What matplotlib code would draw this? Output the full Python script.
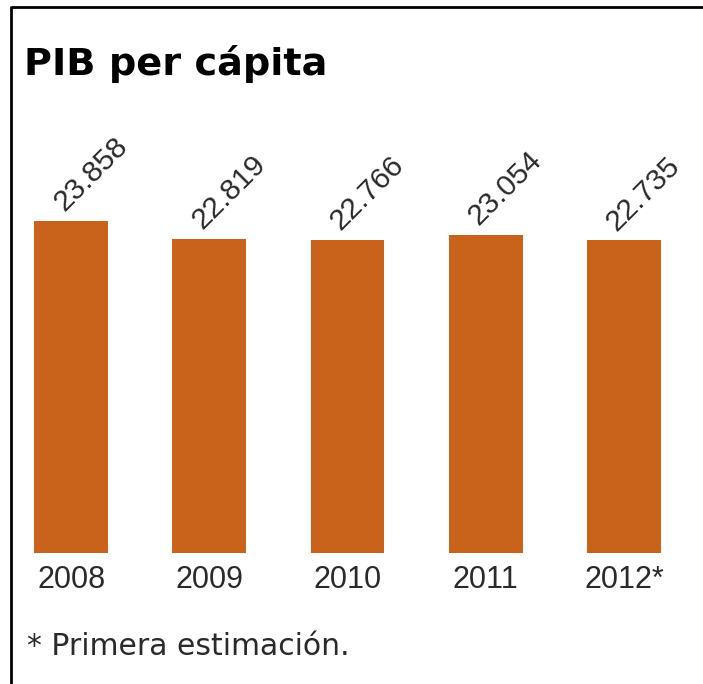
import matplotlib
matplotlib.use("Agg")
import matplotlib.pyplot as plt
from matplotlib.lines import Line2D
from matplotlib import font_manager as fm

# Data
years = ["2008", "2009", "2010", "2011", "2012*"]
values = [23858, 22819, 22766, 23054, 22735]
title = "PIB per cápita"
footnote = "* Primera estimación."


def regular_sans(size):
    path = None
    for f in fm.fontManager.ttflist:
        base = f.fname.rsplit("/", 1)[-1]
        if base.lower() == "liberationsans-regular.ttf":
            path = f.fname
            break
    if path:
        return fm.FontProperties(fname=path, size=size)
    return fm.FontProperties(family="DejaVu Sans", size=size)


W, H = 703, 684
fig = plt.figure(figsize=(W / 100, H / 100), dpi=100)

bar_color = "#C9621B"
text_color = "#2a2a2a"

# Axes placement (pixels from top-left converted to figure fraction)
ax_left_px, ax_right_px = 2, 693
ax_top_px, ax_bot_px = 100, 553
ax = fig.add_axes([ax_left_px / W, (H - ax_bot_px) / H,
                   (ax_right_px - ax_left_px) / W, (ax_bot_px - ax_top_px) / H])
ax.patch.set_alpha(0)

x = list(range(len(years)))
bars = ax.bar(x, values, width=0.535, color=bar_color, linewidth=0)
ax.set_xlim(-0.5, len(years) - 0.5)
ax.set_ylim(4600, 30860)

for sp in ax.spines.values():
    sp.set_visible(False)
ax.set_yticks([])
ax.set_xticks(x)
ax.set_xticklabels(years, fontproperties=regular_sans(22), color=text_color)
ax.tick_params(axis="x", length=0, pad=9)

for xi, v in zip(x, values):
    label = f"{v:,}".replace(",", ".")
    ax.annotate(label, xy=(xi, v), xytext=(-5, 6), textcoords="offset points",
                rotation=45, rotation_mode="anchor", ha="left", va="baseline",
                fontproperties=regular_sans(21.5), color=text_color)

# Title
fig.text(24 / W, (H - 75) / H, title, fontsize=27.5, fontweight="bold",
         family=["DejaVu Sans"], color="black", ha="left", va="baseline")

# Footnote
fig.text(27 / W, (H - 655) / H, footnote, fontsize=21.5,
         family=["DejaVu Sans"], color=text_color, ha="left", va="baseline")

# Frame lines (top and left)
top_y = (H - 6.7) / H
left_x = 11.5 / W
fig.add_artist(Line2D([left_x, 1.0], [top_y, top_y], transform=fig.transFigure,
                      color="black", linewidth=2.0, solid_capstyle="butt"))
fig.add_artist(Line2D([left_x, left_x], [0, top_y + 1.0 / H], transform=fig.transFigure,
                      color="black", linewidth=2.0, solid_capstyle="butt"))

fig.savefig("out.png", dpi=100)
